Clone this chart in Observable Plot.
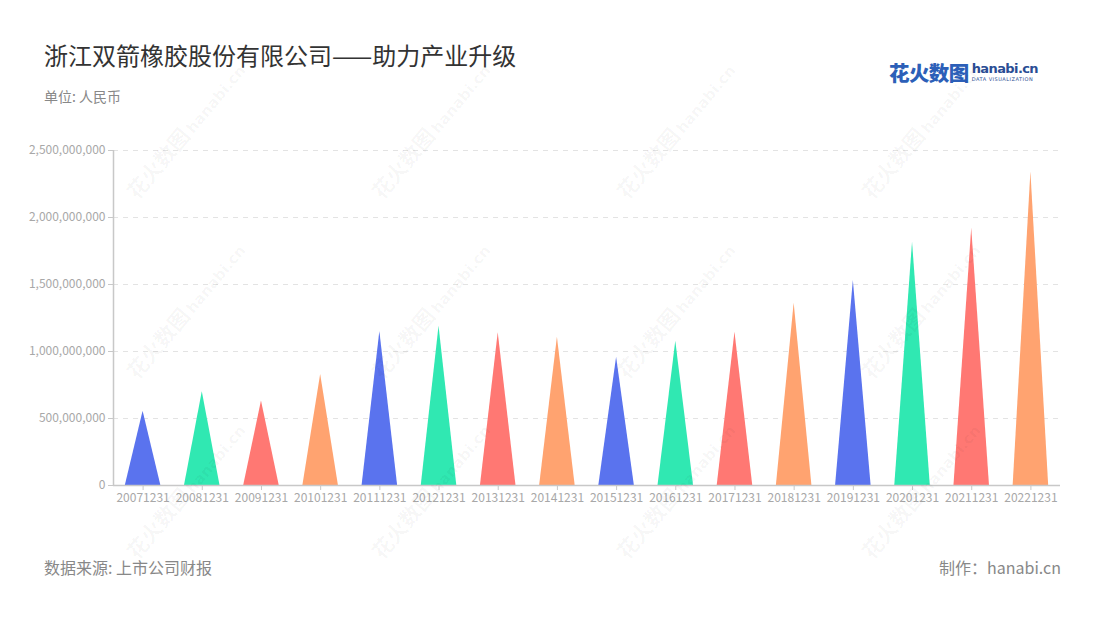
<!DOCTYPE html>
<html>
<head>
<meta charset="utf-8">
<script src="https://cdn.jsdelivr.net/npm/d3@7"></script>
<script src="https://cdn.jsdelivr.net/npm/@observablehq/plot@0.6"></script>
<style>
  html, body { margin: 0; padding: 0; background: #fff; }
  #wrap { position: relative; width: 1100px; height: 620px; overflow: hidden; font-family: "Noto Sans CJK SC", "Noto Sans", sans-serif; }
  .abs { position: absolute; white-space: nowrap; }
  #title { left: 44px; top: 37px; font-size: 24px; color: #333; }
  #sub { left: 44px; top: 86px; font-size: 14px; color: #888; }
  #src { left: 44px; top: 555px; font-size: 16px; color: #888; }
  #made { right: 39px; top: 555px; font-size: 16px; color: #888; }
  #chart { position: absolute; left: 0; top: 110px; }
  #logo { right: 62px; top: 57px; height: 26px; }
  #logo .cn { font-size: 20.5px; font-weight: 900; color: #2c5fb8; letter-spacing: -0.6px; vertical-align: top; }
  #logo .en { display: inline-block; margin-left: 3px; vertical-align: top; line-height: 1; }
  #logo .en1 { font-family: "DejaVu Sans", sans-serif; font-size: 13px; font-weight: bold; color: #2a4d94; letter-spacing: -0.6px; margin-top: 5px; }
  #logo .en2 { font-family: "DejaVu Sans", sans-serif; font-size: 5px; color: #2a4d94; letter-spacing: 0.5px; margin-top: 2px; }
  #wm { position: absolute; left: 0; top: 0; width: 1100px; height: 620px; pointer-events: none; }
  .wmt { position: absolute; white-space: nowrap; color: rgba(0,0,0,0.04); transform: translate(-50%,-50%) rotate(-50deg); font-weight: bold; }
  .wmt .c { font-size: 21px; }
  .wmt .e { font-family: "DejaVu Sans", sans-serif; font-size: 15px; margin-left: 3px; }
</style>
</head>
<body>
<div id="wrap">
  <div id="title" class="abs">浙江双箭橡胶股份有限公司——助力产业升级</div>
  <div id="sub" class="abs">单位: 人民币</div>
  <div id="logo" class="abs"><span class="cn">花火数图</span><span class="en"><div class="en1">hanabi.cn</div><div class="en2">DATA VISUALIZATION</div></span></div>
  <div id="chart"></div>
  <div id="src" class="abs">数据来源: 上市公司财报</div>
  <div id="made" class="abs">制作：hanabi.cn</div>
  <div id="wm"></div>
</div>
<script>
const dates = ["20071231","20081231","20091231","20101231","20111231","20121231","20131231","20141231",
               "20151231","20161231","20171231","20181231","20191231","20201231","20211231","20221231"];
const values = [555e6, 700e6, 630e6, 828e6, 1149e6, 1189e6, 1140e6, 1107e6,
                958e6, 1077e6, 1144e6, 1360e6, 1530e6, 1816e6, 1920e6, 2340e6];
const palette = ["#5A73EE", "#30E8B2", "#FF7873", "#FFA370"];
const yTicks = [0, 5e8, 1e9, 1.5e9, 2e9, 2.5e9];

const halfWidth = 0.3;
const tri = dates.flatMap((d, i) => [
  {x: i - halfWidth, y: 0, d, i},
  {x: i, y: values[i], d, i},
  {x: i + halfWidth, y: 0, d, i}
]);
const xDomain = [-0.5, dates.length - 0.5];
const yDomain = [0, 2.5e9];
const axisColor = "#c8c8c8";
const labelColor = "#a8a8a8";

const chart = Plot.plot({
  width: 1100,
  height: 410,
  marginLeft: 113,
  marginRight: 40,
  marginTop: 40,
  marginBottom: 35,
  style: {fontFamily: "'Noto Sans CJK SC', 'Noto Sans', sans-serif", fontSize: "12px", background: "transparent"},
  x: {domain: xDomain, axis: null, label: null},
  y: {domain: yDomain, axis: null, label: null},
  color: {type: "identity"},
  marks: [
    Plot.gridY(yTicks.slice(1), {stroke: "#e3e3e3", strokeOpacity: 1, strokeDasharray: "5,5", strokeWidth: 1.2}),
    Plot.areaY(tri, {x: "x", y: "y", z: "d", fill: d => palette[d.i % palette.length], fillOpacity: 1}),
    Plot.ruleY([yDomain[0]], {stroke: axisColor, strokeWidth: 1.5}),
    Plot.ruleX([xDomain[0]], {stroke: axisColor, strokeWidth: 1.5}),
    Plot.axisY(yTicks, {tickSize: 5, tickPadding: 3, stroke: axisColor, fill: labelColor, tickFormat: d3.format(","), fontSize: 12, label: null}),
    Plot.axisX(d3.range(dates.length), {tickSize: 5, tickPadding: 3, stroke: axisColor, fill: labelColor, tickFormat: i => dates[i], fontSize: 12, label: null})
  ]
});
document.getElementById("chart").appendChild(chart);

// watermark tiles
const wm = document.getElementById("wm");
for (let r = 0; r < 3; r++) {
  for (let c = 0; c < 4; c++) {
    const el = document.createElement("div");
    el.className = "wmt";
    el.style.left = (185 + 245 * c) + "px";
    el.style.top = (130 + 180 * r) + "px";
    el.innerHTML = '<span class="c">花火数图</span><span class="e">hanabi.cn</span>';
    wm.appendChild(el);
  }
}
</script>
</body>
</html>
